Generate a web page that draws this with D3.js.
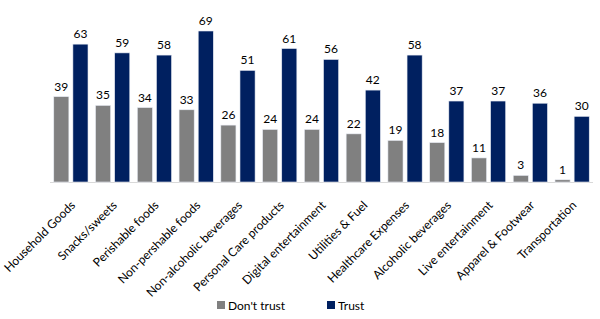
<!DOCTYPE html>
<html><head><meta charset="utf-8">
<script src="https://cdn.jsdelivr.net/npm/d3@7"></script>
<style>body{margin:0;background:#fff;} svg{display:block;font-family:Lato,"Open Sans",sans-serif;}</style>
</head><body><svg id="c" width="600" height="319"></svg>
<script>
const categories = ["Household Goods","Snacks/sweets","Perishable foods","Non-pershable foods","Non-alcoholic beverages","Personal Care products","Digital entertainment","Utilities & Fuel","Healthcare Expenses","Alcoholic beverages","Live entertainment","Apparel & Footwear","Transportation"];
const dontTrust = [39,35,34,33,26,24,24,22,19,18,11,3,1];
const trust = [63,59,58,69,51,61,56,42,58,37,37,36,30];
const seriesNames = ["Don't trust","Trust"];
const colors = ["#808080","#002060"];

const svg = d3.select("#c");
const x0 = d3.scaleBand().domain(categories).range([50,593]).paddingInner(0.18).paddingOuter(0.09);
const x1 = d3.scaleBand().domain(seriesNames).range([0,x0.bandwidth()]).paddingInner(0.21).paddingOuter(0);
const y = d3.scaleLinear().domain([0,69]).range([182,31]);

const data = categories.map((c,i)=>({cat:c, vals:[dontTrust[i],trust[i]]}));

svg.append("line").attr("x1",50).attr("x2",593).attr("y1",182.5).attr("y2",182.5).attr("stroke","#d9d9d9").attr("stroke-width",1);

const g = svg.selectAll("g.grp").data(data).join("g").attr("transform",d=>`translate(${x0(d.cat)},0)`);
g.selectAll("rect").data(d=>d.vals.map((v,j)=>({v,j}))).join("rect")
 .attr("x",d=>x1(seriesNames[d.j])).attr("width",x1.bandwidth())
 .attr("y",d=>y(d.v)).attr("height",d=>182-y(d.v))
 .attr("fill",d=>colors[d.j]).attr("stroke","#e8ecf4").attr("stroke-width",0.6);
g.selectAll("text").data(d=>d.vals.map((v,j)=>({v,j}))).join("text")
 .attr("x",d=>x1(seriesNames[d.j])+x1.bandwidth()/2).attr("y",d=>y(d.v)-6)
 .attr("text-anchor","middle").attr("font-size",12).attr("fill","#000").text(d=>d.v);

const xAxis = d3.axisBottom(x0).tickSize(0).tickPadding(0);
const ax = svg.append("g").attr("transform","translate(0,182)").call(xAxis);
ax.select(".domain").remove();
ax.selectAll("text").attr("font-size",12).attr("fill","#000").attr("font-family","Lato,'Open Sans',sans-serif")
  .attr("text-anchor","end").attr("dy",0).attr("transform","translate(5,24) rotate(-45)");

const leg = svg.append("g");
const legItems = [{n:"Don't trust",x:217},{n:"Trust",x:327}];
legItems.forEach((d,i)=>{
  leg.append("rect").attr("x",d.x).attr("y",301).attr("width",8).attr("height",8).attr("fill",colors[i]);
  leg.append("text").attr("x",d.x+11).attr("y",309.5).attr("font-size",12).attr("fill","#000").text(d.n);
});
</script></body></html>
